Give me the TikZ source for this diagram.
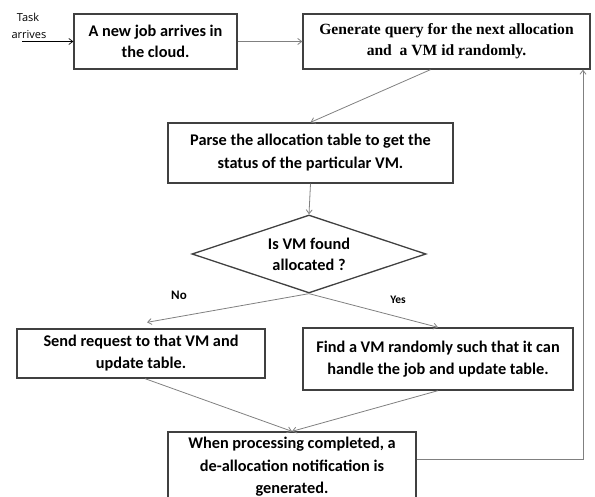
\documentclass[tikz,border=0pt]{standalone}
\usepackage{fontspec}
\setmainfont{Carlito}
\newfontfamily\seriffont{Liberation Serif}
\newfontfamily\smallsans{Open Sans}
\usetikzlibrary{shapes.geometric,arrows.meta}
\begin{document}
\begin{tikzpicture}[x=1pt,y=1pt,
  box/.style={draw=black!75, line width=1.3pt, fill=white, align=center, inner sep=0pt,
    font=\fontsize{16.3}{22}\selectfont\bfseries},
  conn/.style={draw=black!50, line width=0.8pt, -{Straight Barb[length=4pt,width=6pt]}},
  lbl/.style={font=\fontsize{13}{14}\selectfont\bfseries, inner sep=0pt}]
\useasboundingbox (0,0) rectangle (595,-497);
\clip (0,0) rectangle (595,-497);
\node[box, minimum width=163, minimum height=55, font=\fontsize{16.3}{21}\selectfont\bfseries] (b1) at (155.5,-41.5) {A new job arrives in\\the cloud.};
\node[box, minimum width=287, minimum height=55, font=\fontsize{15.6}{21}\selectfont\seriffont\bfseries] (b2) at (446.5,-41.5) {Generate query for the next allocation\\and\ \ a VM id randomly.};
\node[box, minimum width=285, minimum height=60, font=\fontsize{16.3}{23}\selectfont\bfseries] (b3) at (310.5,-153) {Parse the allocation table to get the\\status of the particular VM.};
\node[diamond, draw=black!75, line width=1.3pt, fill=white, inner sep=0pt,
  minimum width=234, minimum height=78] (d) at (309,-254) {};
\node[align=center, inner sep=0pt, font=\fontsize{16.3}{21}\selectfont\bfseries] (dt) at (309,-254) {Is VM found\\allocated ?};
\node[box, minimum width=248, minimum height=49] (b4) at (141,-353.5) {Send request to that VM and\\update table.};
\node[box, minimum width=270, minimum height=62] (b5) at (438,-359) {Find a VM randomly such that it can\\handle the job and update table.};
\node[box, minimum width=248, minimum height=70, font=\fontsize{16.3}{22.5}\selectfont\bfseries] (b6) at (292,-467) {When processing completed, a\\de-allocation notification is\\generated.};
\node[lbl] (no) at (179,-295) {No};
\node[lbl, font=\fontsize{11.5}{13}\selectfont\bfseries] (yes) at (398,-300) {Yes};
\node[font=\fontsize{11}{13}\selectfont\smallsans, inner sep=0pt] (task) at (28,-17) {Task};
\node[font=\fontsize{11}{13}\selectfont\smallsans, inner sep=0pt] (arr) at (29,-35) {arrives};
\coordinate (ta) at (22,-41.5);
\coordinate (fb) at (583,-459);
\draw[conn, draw=black, line width=0.7pt] (ta) -- (b1.west);
\draw[conn] (b1.east) -- (b2.west);
\draw[conn] ([xshift=-16pt]b2.south) -- (b3.north);
\draw[conn] (b3.south) -- (d.north);
\draw[conn] (d.south) -- ([xshift=6pt,yshift=6pt]b4.north);
\draw[conn] (d.south) -- (b5.north);
\draw[conn] ([xshift=4pt]b4.south) -- (b6.north);
\draw[conn] (b5.south) -- (b6.north);
\draw[conn] ([yshift=8pt]b6.east) -- (fb) -- (fb |- b2.south);
\end{tikzpicture}
\end{document}
